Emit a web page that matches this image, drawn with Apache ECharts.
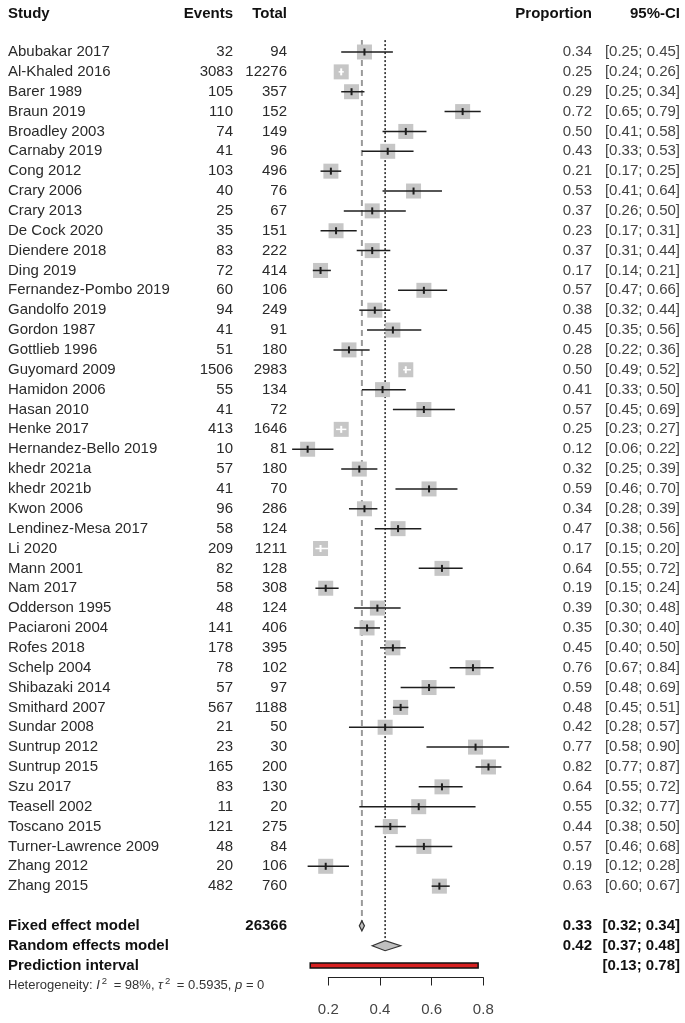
<!DOCTYPE html>
<html><head><meta charset="utf-8">
<script src="https://cdn.jsdelivr.net/npm/echarts@6/dist/echarts.min.js"></script>
<style>html,body{margin:0;padding:0;background:#fff}#c{width:685px;height:1023px}</style>
</head><body><div id="c"></div>
<script>
const studies = ['Abubakar 2017','Al-Khaled 2016','Barer 1989','Braun 2019','Broadley 2003','Carnaby 2019','Cong 2012','Crary 2006','Crary 2013','De Cock 2020','Diendere 2018','Ding 2019','Fernandez-Pombo 2019','Gandolfo 2019','Gordon 1987','Gottlieb 1996','Guyomard 2009','Hamidon 2006','Hasan 2010','Henke 2017','Hernandez-Bello 2019','khedr 2021a','khedr 2021b','Kwon 2006','Lendinez-Mesa 2017','Li 2020','Mann 2001','Nam 2017','Odderson 1995','Paciaroni 2004','Rofes 2018','Schelp 2004','Shibazaki 2014','Smithard 2007','Sundar 2008','Suntrup 2012','Suntrup 2015','Szu 2017','Teasell 2002','Toscano 2015','Turner-Lawrence 2009','Zhang 2012','Zhang 2015'];
const events = [32,3083,105,110,74,41,103,40,25,35,83,72,60,94,41,51,1506,55,41,413,10,57,41,96,58,209,82,58,48,141,178,78,57,567,21,23,165,83,11,121,48,20,482];
const totals = [94,12276,357,152,149,96,496,76,67,151,222,414,106,249,91,180,2983,134,72,1646,81,180,70,286,124,1211,128,308,124,406,395,102,97,1188,50,30,200,130,20,275,84,106,760];
const proportion = [0.34,0.25,0.29,0.72,0.50,0.43,0.21,0.53,0.37,0.23,0.37,0.17,0.57,0.38,0.45,0.28,0.50,0.41,0.57,0.25,0.12,0.32,0.59,0.34,0.47,0.17,0.64,0.19,0.39,0.35,0.45,0.76,0.59,0.48,0.42,0.77,0.82,0.64,0.55,0.44,0.57,0.19,0.63];
const ciLower = [0.25,0.24,0.25,0.65,0.41,0.33,0.17,0.41,0.26,0.17,0.31,0.14,0.47,0.32,0.35,0.22,0.49,0.33,0.45,0.23,0.06,0.25,0.46,0.28,0.38,0.15,0.55,0.15,0.30,0.30,0.40,0.67,0.48,0.45,0.28,0.58,0.77,0.55,0.32,0.38,0.46,0.12,0.60];
const ciUpper = [0.45,0.26,0.34,0.79,0.58,0.53,0.25,0.64,0.50,0.31,0.44,0.21,0.66,0.44,0.56,0.36,0.52,0.50,0.69,0.27,0.22,0.39,0.70,0.39,0.56,0.20,0.72,0.24,0.48,0.40,0.50,0.84,0.69,0.51,0.57,0.90,0.87,0.72,0.77,0.50,0.68,0.28,0.67];

const summaryLabels = ['Fixed effect model','Random effects model','Prediction interval'];
const summaryTotal = ['26366','',''];
const summaryEst = [0.33,0.42,null];
const summaryLower = [0.32,0.37,0.13];
const summaryUpper = [0.34,0.48,0.78];
const headers = ['Study','Events','Total','Proportion','95%-CI'];
const heterogeneity = 'Heterogeneity: {i|I}{s|2} = 98%, {i|τ}{s|2} = 0.5935, {i|p} = 0';
const xTicks = [0.2,0.4,0.6,0.8];

const fmt = v => v.toFixed(2);
const ciText = (l,u) => '[' + fmt(l) + '; ' + fmt(u) + ']';

const N = studies.length;
const studyRows = studies.map((s,i)=>i);
const sumRows = [N+1, N+2, N+3];
const hetRow = N+4;
const headRow = -1.9;

const FONT = 'Liberation Sans, Arial, sans-serif';
const FS = 15;

function textSeries(rows, texts, xPx, align, opts) {
  opts = opts || {};
  return {
    type:'custom', clip:false, silent:true,
    data: rows.map(r=>[0.5, r]),
    encode:{x:0, y:1},
    renderItem: function(params, api){
      const y = api.coord([0.5, api.value(1)])[1];
      const st = {
        text: texts[params.dataIndex], align: align, verticalAlign:'middle',
        fontFamily: FONT, fontSize: opts.size || FS, fontWeight: opts.bold ? 'bold' : 'normal',
        fill: opts.color || '#2a2a2a'
      };
      if (opts.rich) st.rich = opts.rich;
      return {type:'text', x:xPx, y:y, style:st};
    }
  };
}

const series = [];
// headers
series.push(textSeries([headRow],[headers[0]],8,'left',{bold:true,color:'#111'}));
series.push(textSeries([headRow],[headers[1]],233,'right',{bold:true,color:'#111'}));
series.push(textSeries([headRow],[headers[2]],287,'right',{bold:true,color:'#111'}));
series.push(textSeries([headRow],[headers[3]],592,'right',{bold:true,color:'#111'}));
series.push(textSeries([headRow],[headers[4]],680,'right',{bold:true,color:'#111'}));
// study columns
series.push(textSeries(studyRows, studies, 8, 'left'));
series.push(textSeries(studyRows, events.map(String), 233, 'right'));
series.push(textSeries(studyRows, totals.map(String), 287, 'right'));
series.push(textSeries(studyRows, proportion.map(fmt), 592, 'right', {color:'#444'}));
series.push(textSeries(studyRows, studies.map((s,i)=>ciText(ciLower[i],ciUpper[i])), 680, 'right', {color:'#444'}));
// summary text
series.push(textSeries(sumRows, summaryLabels, 8, 'left', {bold:true,color:'#111'}));
series.push(textSeries(sumRows, summaryTotal, 287, 'right', {bold:true,color:'#111'}));
series.push(textSeries(sumRows, summaryEst.map(v=>v==null?'':fmt(v)), 592, 'right', {bold:true,color:'#111'}));
series.push(textSeries(sumRows, summaryLower.map((l,i)=>ciText(l,summaryUpper[i])), 680, 'right', {bold:true,color:'#111'}));
series.push(textSeries([hetRow],[heterogeneity], 8, 'left', {size:13, color:'#333',
  rich:{
    i:{fontStyle:'italic', fontFamily:FONT, fontSize:13, fill:'#333', color:'#333'},
    s:{fontFamily:FONT, fontSize:9.5, fill:'#333', color:'#333', padding:[0,3,9,2]}
  }}));

// reference lines
series.push({type:'line', silent:true, symbol:'none', data:[[summaryEst[0],-0.6],[summaryEst[0],N+1.2]],
  lineStyle:{color:'#9a9a9a', width:2, type:[6,4]}, z:1});
series.push({type:'line', silent:true, symbol:'none', data:[[summaryEst[1],-0.6],[summaryEst[1],N+1.7]],
  lineStyle:{color:'#222', width:1.5, type:[2,2]}, z:1});

// study markers
series.push({
  type:'custom', clip:false, silent:true, z:3,
  data: studies.map((s,i)=>[i, proportion[i], ciLower[i], ciUpper[i]]),
  encode:{x:[1,2,3], y:0},
  renderItem: function(params, api){
    const row = api.value(0);
    const c = api.coord([api.value(1), row]);
    const l = api.coord([api.value(2), row]);
    const h = api.coord([api.value(3), row]);
    const s = 15;
    const inside = (h[0]-l[0]) < s;
    const lc = inside ? '#fff' : '#1e1e1e';
    return {type:'group', children:[
      {type:'rect', shape:{x:c[0]-s/2, y:c[1]-s/2, width:s, height:s}, style:{fill:'#c6c6c6'}},
      {type:'line', shape:{x1:l[0], y1:c[1], x2:h[0], y2:c[1]}, style:{stroke:lc, lineWidth:1.5}},
      {type:'line', shape:{x1:c[0], y1:c[1]-3.5, x2:c[0], y2:c[1]+3.5}, style:{stroke:lc, lineWidth:2}}
    ]};
  }
});

// summary diamonds
series.push({
  type:'custom', clip:false, silent:true, z:4,
  data: [0,1].map(i=>[sumRows[i], summaryEst[i], summaryLower[i], summaryUpper[i]]),
  encode:{x:[1,2,3], y:0},
  renderItem: function(params, api){
    const row = api.value(0);
    const c = api.coord([api.value(1), row]);
    const l = api.coord([api.value(2), row]);
    const h = api.coord([api.value(3), row]);
    const hh = 5;
    return {type:'polygon', shape:{points:[[l[0],c[1]],[c[0],c[1]-hh],[h[0],c[1]],[c[0],c[1]+hh]]},
      style:{fill:'#c0c0c0', stroke:'#333', lineWidth:1.2}};
  }
});

// prediction interval
series.push({
  type:'custom', clip:false, silent:true, z:4,
  data: [[sumRows[2], summaryLower[2], summaryUpper[2]]],
  encode:{x:[1,2], y:0},
  renderItem: function(params, api){
    const row = api.value(0);
    const l = api.coord([api.value(1), row]);
    const h = api.coord([api.value(2), row]);
    return {type:'rect', shape:{x:l[0], y:l[1]-2.5, width:h[0]-l[0], height:5},
      style:{fill:'#d62020', stroke:'#111', lineWidth:1.5}};
  }
});

const chart = echarts.init(document.getElementById('c'), null, {renderer:'canvas'});
chart.setOption({
  animation:false,
  backgroundColor:'#fff',
  grid:{left:328.3, right:201.7, top:2.35, bottom:45.5},
  xAxis:{type:'value', position:'bottom', min:xTicks[0], max:xTicks[xTicks.length-1], interval:0.2,
    splitLine:{show:false},
    axisLine:{show:true, onZero:false, lineStyle:{color:'#222', width:1}},
    axisTick:{show:true, length:8, lineStyle:{color:'#222'}},
    axisLabel:{color:'#444', fontSize:15, fontFamily:FONT, margin:25, formatter:v=>v.toFixed(1)}
  },
  yAxis:{type:'value', inverse:true, min:-2.5, max:46.6, show:false},
  series: series
});
</script></body></html>
